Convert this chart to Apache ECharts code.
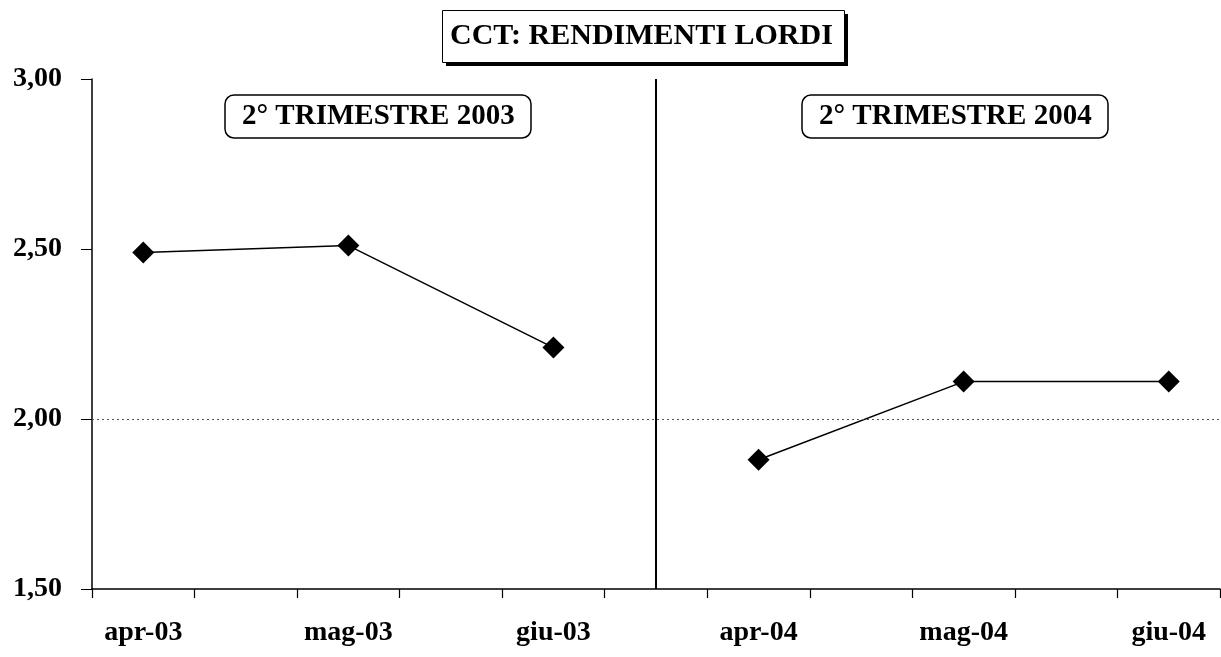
<!DOCTYPE html>
<html>
<head>
<meta charset="utf-8">
<title>CCT: rendimenti lordi</title>
<script src="https://cdn.jsdelivr.net/npm/echarts@6/dist/echarts.min.js"></script>
<style>
  html, body { margin: 0; padding: 0; background: #fff; }
  #chart { width: 1221px; height: 657px; }
</style>
</head>
<body>
<div id="chart"></div>
<script>
// mesi sull'asse x (uno slot vuoto tra un mese e l'altro)
const months = ['apr-03', 'mag-03', 'giu-03', 'apr-04', 'mag-04', 'giu-04']
// rendimenti lordi
const values2003 = [2.49, 2.51, 2.21]
const values2004 = [1.88, 2.11, 2.11]
const yTicks = [1.5, 2.0, 2.5, 3.0]

const serif = "'Liberation Serif', 'Times New Roman', serif"

// categorie: mese, vuoto, mese, vuoto ...
const slots = []
months.forEach((m, i) => {
    slots.push(m)
    if (i < months.length - 1) slots.push('')
})
const toPairs = (vals, offset) => vals.map((v, i) => [(offset + i) * 2, v])

const chart = echarts.init(document.getElementById('chart'))

const boxTitle = (text, left, top) => ({
    text: text,
    left: left,
    top: top,
    padding: [7, 17, 7, 17],
    borderColor: '#000',
    borderWidth: 1.5,
    borderRadius: 9,
    backgroundColor: '#fff',
    textStyle: {
        fontFamily: serif,
        fontWeight: 'bold',
        fontSize: 29,
        lineHeight: 29,
        color: '#000'
    }
})

chart.setOption({
    animation: false,
    // riquadro del titolo con ombra piena a destra e in basso
    graphic: [
        { type: 'rect', z: 0, shape: { x: 446, y: 14, width: 402, height: 52 }, style: { fill: '#000' } },
        { type: 'rect', z: 1, shape: { x: 442.5, y: 10.5, width: 402, height: 52 }, style: { fill: '#fff', stroke: '#000', lineWidth: 1 } }
    ],
    title: [
        {
            text: 'CCT: RENDIMENTI LORDI',
            left: 450,
            top: 21,
            padding: 0,
            z: 10,
            textStyle: {
                fontFamily: serif,
                fontWeight: 'bold',
                fontSize: 30,
                lineHeight: 30,
                color: '#000'
            }
        },
        boxTitle('2° TRIMESTRE 2003', 225, 95),
        boxTitle('2° TRIMESTRE 2004', 802, 95)
    ],
    grid: {
        left: 92,
        right: 1,
        top: 79,
        bottom: 68
    },
    xAxis: {
        type: 'category',
        data: slots,
        boundaryGap: true,
        axisLine: { show: true, lineStyle: { color: '#000', width: 1.5 } },
        axisTick: { show: true, interval: 0, alignWithLabel: false, inside: false, length: 9, lineStyle: { color: '#000', width: 1.2 } },
        axisLabel: {
            interval: 0,
            margin: 30,
            color: '#000',
            fontFamily: serif,
            fontWeight: 'bold',
            fontSize: 28
        },
        splitLine: { show: false }
    },
    yAxis: {
        type: 'value',
        min: 1.5,
        max: 3,
        interval: 0.5,
        axisLine: { show: true, lineStyle: { color: '#000', width: 1.5 } },
        axisTick: { show: true, length: 11, lineStyle: { color: '#000' } },
        axisLabel: {
            margin: 30,
            color: '#000',
            fontFamily: serif,
            fontWeight: 'bold',
            fontSize: 28,
            formatter: v => yTicks.includes(v) ? v.toFixed(2).replace('.', ',') : ''
        },
        splitLine: { show: false }
    },
    series: [
        {
            name: '2003',
            type: 'line',
            data: toPairs(values2003, 0),
            symbol: 'diamond',
            symbolSize: 22,
            itemStyle: { color: '#000' },
            lineStyle: { color: '#000', width: 1.5 },
            markLine: {
                silent: true,
                symbol: 'none',
                label: { show: false },
                data: [
                    // linea tratteggiata a 2,00
                    { yAxis: 2, lineStyle: { type: [2, 3], color: '#555', width: 1 } },
                    // separatore tra i due trimestri
                    { xAxis: 5, lineStyle: { type: 'solid', color: '#000', width: 2 } }
                ]
            }
        },
        {
            name: '2004',
            type: 'line',
            data: toPairs(values2004, 3),
            symbol: 'diamond',
            symbolSize: 22,
            itemStyle: { color: '#000' },
            lineStyle: { color: '#000', width: 1.5 }
        }
    ]
})
</script>
</body>
</html>
